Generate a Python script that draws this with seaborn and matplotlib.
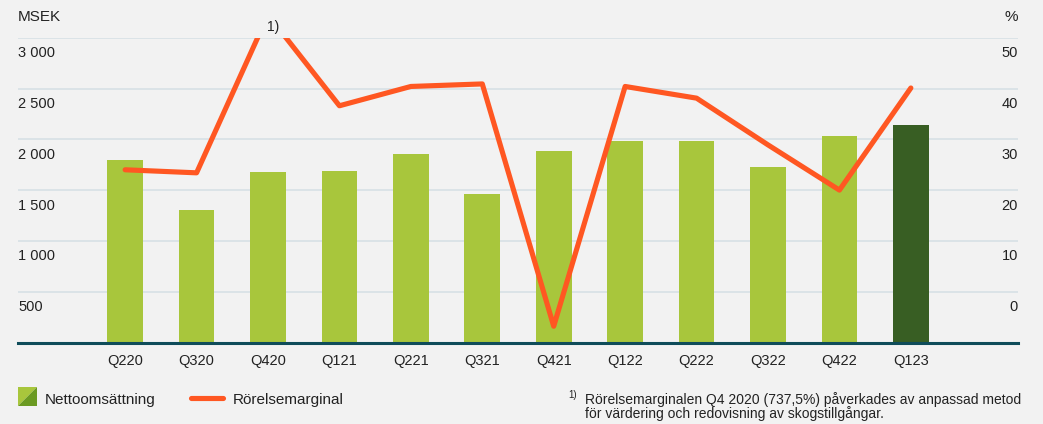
import numpy as np
import pandas as pd
import matplotlib
matplotlib.use("Agg")
import matplotlib.pyplot as plt
from matplotlib.patches import Polygon
from matplotlib.lines import Line2D
import seaborn as sns

# ---- data ----
quarters = ["Q220", "Q320", "Q420", "Q121", "Q221", "Q321", "Q421",
            "Q122", "Q222", "Q322", "Q422", "Q123"]
net_sales = [1800, 1300, 1675, 1685, 1860, 1465, 1880,
             1985, 1985, 1730, 2035, 2145]          # MSEK
op_margin = [24.0, 23.4, 54.5, 36.6, 40.4, 40.9, -6.8,
             40.4, 38.1, 28.9, 20.0, 40.1]          # % (Q420 = 737,5 %, shown capped)
left_ticks = [500, 1000, 1500, 2000, 2500, 3000]
left_tick_labels = ["500", "1 000", "1 500", "2 000", "2 500", "3 000"]
right_ticks = [0, 10, 20, 30, 40, 50]
right_tick_labels = ["0", "10", "20", "30", "40", "50"]
highlight = "Q123"

BG = "#f2f2f2"
LIGHT_GREEN = "#a8c63c"
DARK_GREEN = "#385e23"
MID_GREEN = "#6b9a22"
ORANGE = "#ff5722"
GRID = "#d5dfe4"
BASE = "#0f4c5a"
TXT = "#222222"

sns.set_style("white")
plt.rcParams["font.family"] = ["Liberation Sans", "DejaVu Sans"]

W, H = 1043, 424
fig = plt.figure(figsize=(W / 100, H / 100), dpi=100, facecolor=BG)
fx = lambda px: px / W
fy = lambda py: 1 - py / H

ax = fig.add_axes([fx(18), fy(342.5), fx(1018) - fx(18), fy(37.7) - fy(342.5)])
ax.set_facecolor(BG)

df = pd.DataFrame({"quarter": quarters, "sales": net_sales, "margin": op_margin})
palette = {q: (DARK_GREEN if q == highlight else LIGHT_GREEN) for q in quarters}
sns.barplot(data=df, x="quarter", y="sales", hue="quarter", palette=palette,
            legend=False, width=0.5, saturation=1, linewidth=0,
            ax=ax, zorder=2)

ax.set_ylim(0, 3000)
ax.set_xlim(-1.5, len(quarters) + 0.5)
ax.set_yticks(left_ticks)
ax.set_yticklabels([])
ax.grid(axis="y", color=GRID, lw=1.1)
ax.grid(axis="x", visible=False)
ax.set_axisbelow(True)
ax.tick_params(axis="both", length=0)
ax.tick_params(axis="x", pad=8, labelsize=10.5, labelcolor=TXT)
ax.set_xlabel("")
ax.set_ylabel("")
for s in ["top", "left", "right"]:
    ax.spines[s].set_visible(False)
ax.spines["bottom"].set_color(BASE)
ax.spines["bottom"].set_linewidth(2.2)
ax.spines["bottom"].set_zorder(5)

for v, lab in zip(left_ticks, left_tick_labels):
    ax.annotate(lab, xy=(0, v), xycoords=("axes fraction", "data"),
                xytext=(0, -19.5), textcoords="offset pixels",
                ha="left", va="baseline", fontsize=10.5, color=TXT)

ax2 = ax.twinx()
ax2.patch.set_visible(False)
sns.lineplot(data=df, x="quarter", y="margin", sort=False, ax=ax2,
             color=ORANGE, lw=3.7, legend=False)
for ln in ax2.lines:
    ln.set_solid_capstyle("round")
    ln.set_solid_joinstyle("round")
ax2.set_ylim(-10, 50)
ax2.set_xlim(-1.5, len(quarters) + 0.5)
ax2.set_yticks(right_ticks)
ax2.set_yticklabels([])
ax2.tick_params(axis="both", length=0)
ax2.grid(False)
ax2.set_xlabel("")
ax2.set_ylabel("")
for s in ax2.spines.values():
    s.set_visible(False)

for v, lab in zip(right_ticks, right_tick_labels):
    ax2.annotate(lab, xy=(1, v), xycoords=("axes fraction", "data"),
                 xytext=(0, -19.5), textcoords="offset pixels",
                 ha="right", va="baseline", fontsize=10.5, color=TXT)

# footnote marker at Q420
ax2.annotate("1)", xy=(quarters.index("Q420"), 50), xycoords="data",
             xytext=(5, 6.5), textcoords="offset pixels",
             ha="center", va="baseline", fontsize=10, color=TXT,
             annotation_clip=False)

# axis units
fig.text(fx(18), fy(20.7), "MSEK", ha="left", va="baseline", fontsize=11, color=TXT)
fig.text(fx(1018), fy(20.7), "%", ha="right", va="baseline", fontsize=11, color=TXT)

# legend
fig.add_artist(Polygon([(fx(18), fy(387)), (fx(37), fy(387)), (fx(18), fy(406))],
                       closed=True, transform=fig.transFigure, color=LIGHT_GREEN, lw=0))
fig.add_artist(Polygon([(fx(37), fy(387)), (fx(37), fy(406)), (fx(18), fy(406))],
                       closed=True, transform=fig.transFigure, color=MID_GREEN, lw=0))
fig.text(fx(45), fy(404.3), "Nettoomsättning", ha="left", va="baseline",
         fontsize=11, color=TXT)
fig.add_artist(Line2D([fx(191), fx(223)], [fy(397.5), fy(397.5)],
                      transform=fig.transFigure, color=ORANGE, lw=3.7,
                      solid_capstyle="round"))
fig.text(fx(233), fy(404.3), "Rörelsemarginal", ha="left", va="baseline",
         fontsize=11, color=TXT)

# footnote
fig.text(fx(568), fy(398), "1)", ha="left", va="baseline", fontsize=7, color=TXT)
fig.text(fx(585), fy(392), "Rörelsemarginalen Q4 2020 (737,5%) påverkades av anpassad metod\n"
         "för värdering och redovisning av skogstillgångar.",
         ha="left", va="top", fontsize=10, color=TXT, linespacing=0.95)

fig.savefig("out.png", dpi=100, facecolor=BG)
